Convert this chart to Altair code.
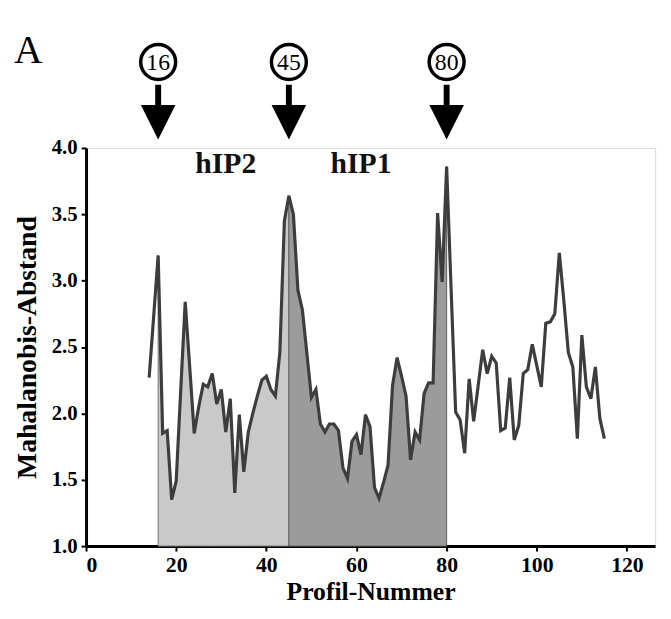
import altair as alt
import pandas as pd

# ---- data ----
profiles = list(range(14, 116))
values = [
    2.27, 2.73, 3.19, 1.85, 1.87, 1.35, 1.49, 2.17, 2.84, 2.35,   # 14-23
    1.85, 2.05, 2.22, 2.20, 2.30, 2.07, 2.18, 1.86, 2.11, 1.40,   # 24-33
    1.99, 1.56, 1.86, 2.00, 2.13, 2.25, 2.28, 2.18, 2.13, 2.46,   # 34-43
    3.45, 3.64, 3.50, 2.93, 2.78, 2.45, 2.12, 2.18, 1.92, 1.86,   # 44-53
    1.92, 1.92, 1.87, 1.59, 1.51, 1.79, 1.84, 1.69, 1.99, 1.90,   # 54-63
    1.44, 1.36, 1.48, 1.61, 2.21, 2.42, 2.28, 2.13, 1.65, 1.86,   # 64-73
    1.80, 2.15, 2.23, 2.23, 3.51, 2.99, 3.86, 2.93, 2.01, 1.95,   # 74-83
    1.70, 2.26, 1.94, 2.21, 2.48, 2.30, 2.43, 2.38, 1.87, 1.89,   # 84-93
    2.27, 1.80, 1.91, 2.30, 2.33, 2.52, 2.36, 2.20, 2.68, 2.69,   # 94-103
    2.75, 3.21, 2.85, 2.46, 2.35, 1.81, 2.59, 2.20, 2.11, 2.35,   # 104-113
    1.96, 1.81,                                                   # 114-115
]
regions = ["hIP2", "hIP1"]
region_start = [16, 45]
region_end = [45, 80]
region_label_x = [31, 61]
region_label_y = [3.88, 3.88]
markers = [16, 45, 80]
x_ticks = [0, 20, 40, 60, 80, 100, 120]
y_ticks = [1.0, 1.5, 2.0, 2.5, 3.0, 3.5, 4.0]

df = pd.DataFrame({"profil": profiles, "wert": values})
hip2 = df[(df.profil >= region_start[0]) & (df.profil <= region_end[0])]
hip1 = df[(df.profil >= region_start[1]) & (df.profil <= region_end[1])]
lab = pd.DataFrame({"name": regions, "x": region_label_x, "y": region_label_y})
mk = pd.DataFrame({"m": markers, "t": [str(m) for m in markers]})

SERIF = "Liberation Serif"
xs = alt.Scale(domain=[0, 126.25], nice=False)
ys = alt.Scale(domain=[1, 4], nice=False, zero=False)

xenc = alt.X("profil:Q", scale=xs, axis=alt.Axis(
    values=x_ticks, title="Profil-Nummer", grid=False, format="d",
    labelFont=SERIF, labelFontWeight="bold", labelFontSize=22, labelColor="black",
    titleFont=SERIF, titleFontWeight="bold", titleFontSize=26, titleColor="black",
    titlePadding=3, domainColor="black", domainWidth=3, tickColor="black",
    tickWidth=2, tickSize=5, labelPadding=4))
yenc = alt.Y("wert:Q", scale=ys, axis=alt.Axis(
    values=y_ticks, format=".1f", title="Mahalanobis-Abstand", grid=False,
    labelFont=SERIF, labelFontWeight="bold", labelFontSize=21, labelColor="black",
    titleFont=SERIF, titleFontWeight="bold", titleFontSize=28, titleColor="black",
    titlePadding=10, domainColor="black", domainWidth=3, tickColor="black",
    tickWidth=2, tickSize=5, labelPadding=4))

area2 = alt.Chart(hip2).mark_area(color="#c9c9c9", stroke="#6e6e6e", strokeWidth=1).encode(
    x=xenc, y=yenc, y2=alt.datum(1.0))
area1 = alt.Chart(hip1).mark_area(color="#9b9b9b", stroke="#5e5e5e", strokeWidth=1).encode(
    x="profil:Q", y="wert:Q", y2=alt.datum(1.0))
line = alt.Chart(df).mark_line(color="#3d3d3d", strokeWidth=3.2, strokeJoin="miter").encode(
    x="profil:Q", y="wert:Q")

labels = alt.Chart(lab).mark_text(font=SERIF, fontWeight="bold", fontSize=30,
                                   color="#111", baseline="middle").encode(
    x="x:Q", y="y:Q", text="name:N")

circles = alt.Chart(mk).mark_point(shape="circle", size=1250, filled=False,
                                    stroke="black", strokeWidth=3.5, opacity=1).encode(
    x="m:Q", y=alt.value(-87))
circle_txt = alt.Chart(mk).mark_text(font=SERIF, fontSize=24, color="black",
                                      baseline="middle", dy=1).encode(
    x="m:Q", y=alt.value(-87), text="t:N")
shafts = alt.Chart(mk).mark_rule(color="black", strokeWidth=6).encode(
    x="m:Q", y=alt.value(-64), y2=alt.value(-40))
heads = alt.Chart(mk).mark_point(shape="M-1,-1L1,-1L0,1Z", size=1225, filled=True,
                                  color="black", opacity=1).encode(
    x="m:Q", y=alt.value(-26))
letter = alt.Chart(mk.head(1)).mark_text(font=SERIF, fontSize=40, color="black",
                                          align="left", baseline="alphabetic").encode(
    x=alt.value(-73), y=alt.value(-86), text=alt.value("A"))

chart = alt.layer(area2, area1, line, labels, circles, circle_txt, shafts, heads, letter).properties(
    width=576, height=403,
    autosize=alt.AutoSizeParams(type="none"),
    padding={"left": 79, "top": 138, "right": 8, "bottom": 62},
).configure_view(stroke=None).configure(background="white")

chart.save("out.html", embed_options={"renderer": "svg", "actions": False})
